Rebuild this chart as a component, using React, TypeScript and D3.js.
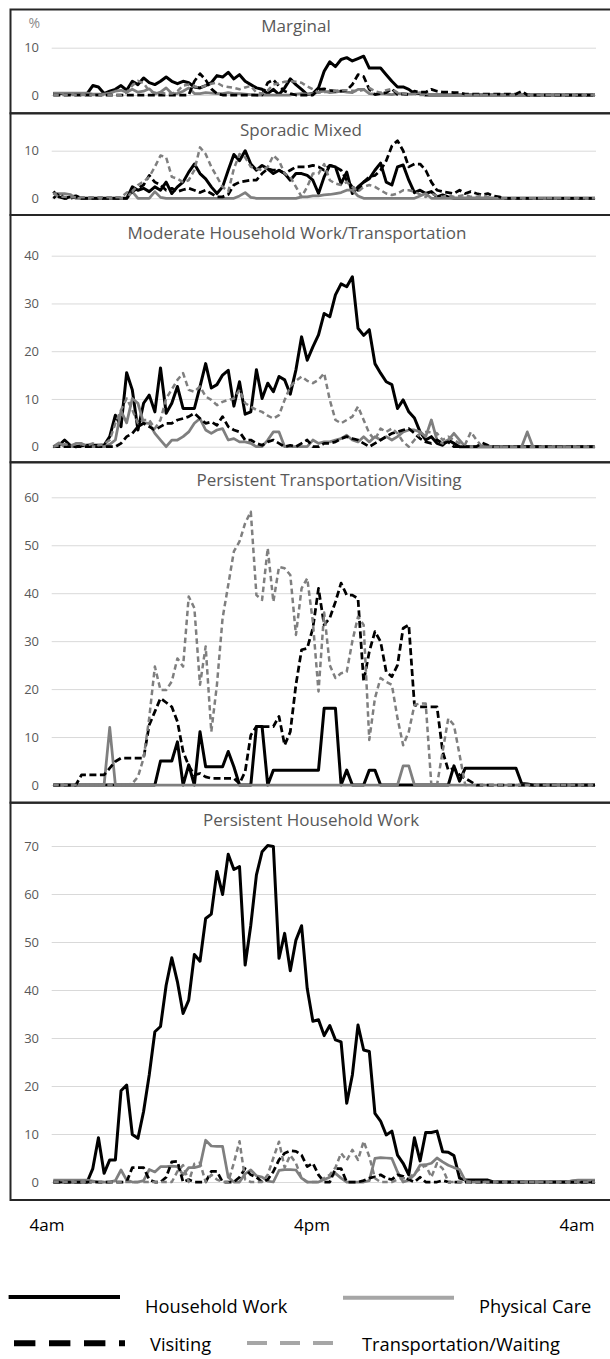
import React, { useEffect, useRef } from 'react'
import * as d3 from 'd3'

// quarter-hour steps from 4am to 4am next day
const quarterHours = d3.range(97).map((i) => 4 + i / 4)

const xLabels = ['4am', '4pm', '4am']
const seriesNames = ['Household Work', 'Physical Care', 'Visiting', 'Transportation/Waiting']
const panelTitles = [
  'Marginal',
  'Sporadic Mixed',
  'Moderate Household Work/Transportation',
  'Persistent Transportation/Visiting',
  'Persistent Household Work',
]
const panelTicks = [
  [0, 10],
  [0, 10],
  [0, 10, 20, 30, 40],
  [0, 10, 20, 30, 40, 50, 60],
  [0, 10, 20, 30, 40, 50, 60, 70],
]

// Marginal
const marginalHousework = [
  0.3, 0.3, 0.3, 0.3, 0.3, 0.3, 0.3, 2.0, 1.7, 0.3,
  0.8, 1.2, 2.0, 1.0, 2.9, 2.2, 3.6, 2.6, 2.2, 2.9,
  3.8, 2.9, 2.4, 2.9, 2.6, 1.7, 1.5, 2.0, 2.6, 4.1,
  3.8, 4.8, 3.4, 4.3, 2.9, 2.2, 1.5, 1.2, 0.3, 1.2,
  0.1, 1.5, 3.4, 2.2, 1.2, 0.1, 0.3, 1.5, 5.0, 7.0,
  6.0, 7.5, 7.9, 7.2, 7.7, 8.2, 5.7, 5.7, 5.7, 4.3,
  2.9, 1.7, 1.7, 1.2, 0.3, 0.3, 0, 0, 0, 0,
  0, 0, 0, 0, 0, 0, 0, 0, 0, 0,
  0, 0, 0, 0, 0, 0, 0, 0, 0, 0,
  0, 0, 0, 0, 0, 0, 0,
]
const marginalPhysical = [
  0.4, 0.4, 0.4, 0.4, 0.4, 0.4, 0.4, 0.2, 0.2, 0.2,
  0.4, 0.8, 1.0, 0.6, 1.2, 0.6, 0.8, 1.3, 0.2, 0.6,
  1.5, 0.3, 0.3, 0.8, 1.5, 0.3, 0.3, 0.5, 0.4, 0.3,
  0.3, 0.5, 0.3, 0.3, 0.2, 0.1, 0, 0, 0, 0,
  0, 0, 0, 0.2, 0.3, 0.2, 0.3, 0.6, 0.8, 0.5,
  0.6, 0.8, 0.6, 0.5, 1.2, 1.2, 0.3, 0.2, 0.3, 0.2,
  0.1, 0.3, 0.3, 0.2, 0.3, 0.5, 0.3, 0, 0, 0,
  0, 0, 0, 0, 0, 0, 0, 0, 0, 0,
  0, 0, 0, 0, 0, 0, 0, 0, 0, 0,
  0, 0, 0, 0, 0, 0, 0,
]
const marginalVisiting = [
  0, 0, 0, 0, 0, 0, 0, 0, 0, 0,
  0, 0, 0, 0, 0, 0, 0, 0, 0, 0,
  0, 0, 0, 0, 0, 2.9, 4.5, 3.2, 1.3, 0.3,
  0, 0, 0, 0, 0, 0, 0, 0, 2.6, 3.2,
  1.9, 0.8, 0.3, 0, 0, 0, 0, 1.2, 1.3, 1.0,
  0.8, 0.8, 1.0, 2.2, 4.3, 3.9, 1.2, 0.1, 0.3, 0.5,
  1.3, 0.1, 0.2, 0.1, 0.8, 0.6, 0.6, 1.2, 0.8, 0.6,
  0.6, 0.5, 0.5, 0.2, 0.2, 0.2, 0.2, 0.2, 0.2, 0.2,
  0.2, 0.2, 0.2, 0.8, 0, 0, 0, 0, 0, 0,
  0, 0, 0, 0, 0, 0, 0,
]
const marginalTransport = [
  0, 0, 0, 0, 0, 0, 0, 0, 0, 0,
  0, 0, 0, 0.5, 2.0, 3.0, 2.5, 0.8, 0.5, 0.5,
  0.3, 0.3, 0.8, 2.0, 2.2, 1.8, 1.5, 2.0, 2.4, 2.6,
  1.9, 1.7, 1.5, 1.2, 1.6, 1.9, 0.5, 0.3, 1.0, 2.2,
  2.5, 2.8, 2.9, 2.8, 2.6, 1.8, 1.2, 0.5, 0.6, 0.8,
  0.9, 1.0, 1.0, 0.9, 0.8, 1.1, 1.5, 0.8, 0.5, 1.0,
  1.3, 0.5, 0.3, 0.2, 0.2, 0, 0, 0, 0, 0,
  0, 0, 0, 0, 0, 0, 0, 0, 0, 0,
  0, 0, 0, 0, 0, 0, 0, 0, 0, 0,
  0, 0, 0, 0, 0, 0, 0,
]

// Sporadic Mixed
const sporadicHousework = [
  1.4, 0.3, 0, 0.3, 0.5, 0, 0, 0, 0, 0,
  0, 0, 0, 0, 2.4, 1.7, 2.1, 1.4, 2.4, 1.7,
  3.4, 1.0, 2.4, 3.4, 5.5, 7.2, 5.2, 4.1, 2.4, 1.0,
  2.4, 5.9, 9.2, 7.9, 10.0, 7.2, 5.9, 6.9, 6.2, 5.2,
  5.9, 5.2, 3.8, 5.2, 5.2, 4.8, 3.8, 1.0, 4.5, 6.9,
  6.6, 3.1, 5.5, 1.0, 2.4, 3.4, 4.1, 5.9, 7.4, 3.4,
  2.8, 6.6, 7.0, 3.8, 1.2, 1.7, 1.0, 1.4, 0.3, 0.7,
  0.3, 0, 0, 0, 0, 0, 0, 0, 0, 0,
  0, 0, 0, 0, 0, 0, 0, 0, 0, 0,
  0, 0, 0, 0, 0, 0, 0,
]
const sporadicPhysical = [
  1.0, 1.0, 1.0, 0.8, 0, 0, 0, 0, 0, 0,
  0, 0, 0, 0, 1.4, 0, 0, 0, 1.4, 0.2,
  0, 0, 0, 0, 0, 0, 0, 0, 0, 0,
  0, 0, 0, 0.5, 1.2, 0.2, 0, 0, 0, 0,
  0, 0, 0, 0, 0.3, 0.3, 0.5, 0.5, 0.7, 0.8,
  1.0, 1.2, 1.7, 1.7, 0.5, 0, 0, 0, 0, 0,
  0, 0, 0, 0, 0, 0.5, 1.0, 0, 0, 0,
  0, 0, 0, 0, 0, 0, 0, 0, 0, 0,
  0, 0, 0, 0, 0, 0, 0, 0, 0, 0,
  0, 0, 0, 0, 0, 0, 0,
]
const sporadicVisiting = [
  0, 1.0, 0, 0, 0.3, 0, 0, 0, 0, 0,
  0, 0, 0, 0, 1.4, 2.1, 2.8, 4.8, 3.4, 2.8,
  1.7, 2.1, 1.4, 1.8, 2.1, 1.7, 1.2, 1.7, 1.0, 0.3,
  0.3, 0.8, 2.8, 3.4, 3.6, 3.8, 3.8, 5.2, 6.2, 5.9,
  5.9, 5.2, 5.9, 6.6, 6.6, 6.6, 6.9, 6.6, 5.9, 6.9,
  6.6, 5.9, 3.8, 2.4, 1.7, 3.4, 4.5, 4.8, 5.9, 7.9,
  11.0, 12.1, 10.0, 6.6, 7.2, 7.2, 5.9, 3.4, 1.7, 1.4,
  1.2, 1.0, 1.7, 1.0, 1.4, 1.0, 0.7, 1.0, 0.5, 0.3,
  0, 0, 0, 0, 0, 0, 0, 0, 0, 0,
  0, 0, 0, 0, 0, 0, 0,
]
const sporadicTransport = [
  1.0, 0.3, 0.3, 0.2, 0.2, 0.2, 0.2, 0.2, 0.2, 0.2,
  0.2, 0.2, 0.2, 1.2, 1.4, 2.8, 3.5, 4.5, 6.6, 9.0,
  8.6, 4.5, 4.1, 3.4, 3.8, 5.9, 10.7, 9.3, 6.6, 4.5,
  2.4, 1.4, 6.2, 9.3, 8.6, 6.6, 6.2, 5.9, 6.6, 9.0,
  7.9, 5.2, 4.5, 2.4, 0.3, 2.4, 5.2, 5.2, 7.2, 3.8,
  3.1, 2.8, 3.4, 2.4, 1.4, 2.4, 2.8, 2.4, 1.7, 1.0,
  0.7, 1.0, 1.7, 1.7, 1.4, 0.8, 0.3, 1.0, 0.5, 0.3,
  0.7, 0.3, 0.5, 0.7, 0.3, 0.3, 0.7, 0.3, 0, 0,
  0, 0, 0, 0, 0, 0, 0, 0, 0, 0,
  0, 0, 0, 0, 0, 0, 0,
]

// Moderate Household Work/Transportation
const moderateHousework = [
  0, 0.3, 1.4, 0.3, 0, 0.2, 0.3, 0.3, 0.3, 0.3,
  2.1, 6.6, 4.2, 15.5, 11.9, 3.5, 9.1, 10.8, 7.3, 16.5,
  7.0, 9.1, 12.6, 8.0, 8.0, 8.0, 12.6, 17.4, 12.3, 13.0,
  15.0, 16.0, 8.5, 13.6, 6.8, 7.3, 16.1, 10.1, 13.3, 11.5,
  14.7, 14.0, 11.0, 16.1, 23.0, 18.1, 20.9, 23.4, 27.9, 27.2,
  31.8, 34.1, 33.5, 35.6, 24.8, 23.3, 24.5, 17.4, 15.4, 13.6,
  13.0, 8.0, 9.8, 7.3, 6.0, 3.1, 1.4, 2.1, 0.7, 0.3,
  1.4, 0.7, 0, 0, 0, 0, 0, 0, 0, 0,
  0, 0, 0, 0, 0, 0, 0, 0, 0, 0,
  0, 0, 0, 0, 0, 0, 0,
]
const moderatePhysical = [
  0, 0.8, 0, 0, 0.7, 0.7, 0, 0, 0, 0,
  0.5, 1.4, 7.5, 5.0, 10.1, 9.1, 5.0, 4.9, 2.8, 1.4,
  0, 1.4, 1.4, 2.1, 3.1, 4.9, 5.9, 3.5, 2.8, 3.5,
  3.8, 1.4, 1.7, 1.0, 1.0, 0.7, 0, 0, 1.4, 3.1,
  3.1, 0, 0, 0, 0, 0, 1.4, 0.7, 1.0, 1.0,
  1.4, 1.7, 2.4, 1.4, 1.0, 2.1, 1.0, 2.1, 1.4, 2.1,
  1.4, 2.1, 3.1, 3.5, 3.5, 3.1, 2.1, 5.6, 1.4, 0.7,
  1.4, 2.8, 1.4, 0, 0, 0, 0, 0, 0, 0,
  0, 0, 0, 0, 3.1, 0, 0, 0, 0, 0,
  0, 0, 0, 0, 0, 0, 0,
]
const moderateVisiting = [
  0, 0, 0, 0, 0, 0, 0, 0, 0, 0,
  0, 0, 0.7, 2.1, 2.8, 4.2, 4.9, 4.2, 3.5, 4.2,
  4.9, 4.9, 5.6, 5.9, 6.3, 7.0, 5.9, 4.9, 5.2, 4.5,
  6.3, 4.2, 3.5, 3.1, 1.4, 1.4, 0.7, 0.3, 1.0, 1.4,
  0.7, 0, 0.3, 0, 0.7, 1.4, 0, 0, 0.7, 0.7,
  1.0, 1.7, 2.1, 1.7, 1.4, 0.7, 0, 0.7, 1.4, 2.1,
  2.8, 3.1, 3.5, 3.8, 2.8, 1.7, 1.0, 0.7, 1.4, 0.7,
  1.0, 0, 0, 0, 0, 0, 0.8, 0.3, 0, 0,
  0, 0, 0, 0, 0, 0, 0, 0, 0, 0,
  0, 0, 0, 0, 0, 0, 0,
]
const moderateTransport = [
  0, 0.3, 0.5, 0.3, 0.5, 0.5, 0.3, 0.7, 0.3, 0.5,
  1.4, 4.9, 7.7, 10.1, 7.7, 4.9, 5.6, 5.6, 3.8, 5.6,
  10.1, 12.0, 14.0, 15.4, 11.9, 11.5, 12.6, 10.5, 9.8, 8.7,
  9.4, 9.8, 10.1, 11.9, 9.1, 8.4, 7.7, 7.3, 6.5, 5.9,
  6.6, 9.8, 12.6, 13.8, 14.7, 13.8, 13.3, 14.0, 15.4, 9.8,
  5.6, 4.9, 5.6, 6.3, 8.4, 5.6, 2.8, 1.4, 3.8, 3.1,
  3.8, 2.8, 1.0, 0, 1.4, 2.8, 3.1, 3.0, 2.8, 1.4,
  2.1, 1.4, 0.7, 0.5, 3.1, 1.4, 0, 0, 0, 0,
  0, 0, 0, 0, 0, 0, 0, 0, 0, 0,
  0, 0, 0, 0, 0, 0, 0,
]

// Persistent Transportation/Visiting
const transitHousework = [
  0, 0, 0, 0, 0, 0, 0, 0, 0, 0,
  0, 0, 0, 0, 0, 0, 0, 0, 0, 5.0,
  5.0, 5.0, 9.0, 0, 4.2, 0, 11.1, 3.8, 3.8, 3.8,
  3.8, 7.0, 3.8, 0, 0, 0, 12.2, 12.2, 0, 3.1,
  3.1, 3.1, 3.1, 3.1, 3.1, 3.1, 3.1, 3.1, 16.0, 16.0,
  16.0, 0, 3.1, 0, 0, 0, 3.1, 3.1, 0, 0,
  0, 0, 0, 0, 0, 0, 0, 0, 0, 0,
  0, 4.0, 0.8, 3.5, 3.5, 3.5, 3.5, 3.5, 3.5, 3.5,
  3.5, 3.5, 3.5, 0.3, 0.2, 0, 0, 0, 0, 0,
  0, 0, 0, 0, 0, 0, 0,
]
const transitPhysical = [
  0, 0, 0, 0, 0, 0, 0, 0, 0, 0,
  12.0, 0, 0, 0, 0, 0, 0, 0, 0, 0,
  0, 0, 0, 0, 0, 0, 0, 0, 0, 0,
  0, 0, 0, 0, 0, 0, 0, 0, 0, 0,
  0, 0, 0, 0, 0, 0, 0, 0, 0, 0,
  0, 0, 0, 0, 0, 0, 0, 0, 0, 0,
  0, 0, 4.0, 4.0, 0, 0, 0, 0, 0, 0,
  0, 0, 0, 0, 0, 0, 0, 0, 0, 0,
  0, 0, 0, 0, 0, 0, 0, 0, 0, 0,
  0, 0, 0, 0, 0, 0, 0,
]
const transitVisiting = [
  0, 0, 0, 0, 0, 2.1, 2.1, 2.1, 2.1, 2.1,
  3.5, 4.9, 5.6, 5.6, 5.6, 5.6, 5.6, 12.5, 15.3, 18.1,
  17.2, 16.3, 13.2, 7.0, 4.0, 2.1, 2.4, 1.7, 1.4, 1.4,
  1.4, 1.4, 1.4, 0.3, 2.8, 10.4, 12.2, 12.2, 12.2, 12.2,
  14.3, 8.3, 11.1, 20.9, 28.2, 28.5, 32.7, 41.0, 33.4, 34.8,
  38.2, 42.1, 39.6, 39.6, 38.9, 21.6, 27.8, 32.0, 29.9, 23.6,
  22.6, 25.0, 32.7, 33.4, 16.7, 16.3, 16.3, 16.3, 16.3, 7.0,
  3.1, 3.5, 2.1, 1.4, 0.7, 0, 0, 0, 0, 0,
  0, 0, 0, 0, 0, 0, 0, 0, 0, 0,
  0, 0, 0, 0, 0, 0, 0,
]
const transitTransport = [
  0, 0, 0, 0, 0, 0, 0, 0, 0, 0,
  0, 0, 0, 0, 0.3, 1.7, 5.6, 14.0, 24.7, 19.8,
  19.8, 21.6, 26.4, 24.7, 39.3, 36.9, 20.9, 28.9, 11.1, 20.9,
  34.8, 41.7, 48.7, 50.8, 54.6, 57.0, 39.6, 38.6, 49.4, 38.2,
  45.5, 45.2, 43.8, 31.3, 41.0, 43.1, 34.0, 19.5, 36.0, 25.0,
  22.3, 23.3, 23.6, 30.0, 35.1, 33.4, 9.4, 18.1, 22.3, 21.5,
  20.9, 13.9, 8.3, 11.1, 16.7, 17.0, 17.0, 0, 0, 7.0,
  13.9, 12.5, 6.3, 0, 0, 0, 0, 0, 0, 0,
  0, 0, 0, 0, 0, 0, 0, 0, 0, 0,
  0, 0, 0, 0, 0, 0, 0,
]

// Persistent Household Work
const homeHousework = [
  0, 0, 0, 0, 0, 0, 0, 2.8, 9.2, 1.8,
  4.6, 4.6, 19.0, 20.2, 9.9, 9.1, 14.7, 22.3, 31.3, 32.4,
  41.0, 46.7, 41.7, 35.1, 37.9, 47.4, 46.0, 54.9, 55.8, 64.7,
  59.9, 68.3, 65.1, 65.7, 45.2, 53.5, 64.0, 68.8, 70.1, 69.9,
  46.6, 51.8, 44.0, 50.4, 53.4, 40.3, 33.5, 33.8, 30.5, 32.6,
  29.6, 29.2, 16.4, 22.3, 32.7, 27.5, 27.2, 14.3, 12.7, 9.8,
  10.6, 5.6, 3.9, 1.5, 9.2, 4.4, 10.3, 10.3, 10.6, 6.3,
  6.2, 5.5, 0.8, 0.4, 0.4, 0.4, 0.4, 0.4, 0, 0,
  0, 0, 0, 0, 0, 0, 0, 0, 0, 0,
  0, 0, 0, 0, 0, 0, 0,
]
const homePhysical = [
  0.4, 0.4, 0.4, 0.4, 0.4, 0.4, 0.4, 0.2, 0, 0,
  0, 0.3, 2.5, 0.4, 0, 0, 0.3, 2.6, 2.1, 3.2,
  3.2, 3.3, 3.2, 1.5, 3.0, 3.0, 3.3, 8.7, 7.5, 7.4,
  7.4, 1.0, 0, 0, 1.7, 2.5, 1.3, 1.0, 0.2, 0,
  2.4, 2.6, 2.6, 2.5, 0.8, 0, 0, 0, 0.5, 1.0,
  1.8, 0.8, 0, 0, 0, 0, 0.3, 4.9, 5.1, 5.0,
  4.9, 2.1, 0, 0.4, 1.5, 3.5, 3.6, 3.9, 5.0, 4.2,
  3.5, 3.0, 2.6, 0.3, 0, 0, 0, 0, 0, 0,
  0, 0, 0, 0, 0, 0, 0, 0, 0, 0,
  0, 0, 0.3, 0.4, 0.4, 0.4, 0.4,
]
const homeVisiting = [
  0, 0, 0, 0, 0, 0, 0, 0, 0, 0,
  0, 0, 0, 0, 3.0, 3.0, 3.0, 0.5, 0, 0,
  1.0, 4.2, 4.3, 0, 0.5, 0, 0, 0, 2.2, 2.2,
  0, 0, 0, 1.0, 2.8, 1.5, 1.0, 0, 0.5, 2.2,
  4.6, 6.0, 6.5, 6.4, 5.6, 3.2, 3.9, 1.5, 0, 0,
  2.8, 2.8, 0, 0, 0, 0.3, 0.8, 1.1, 1.5, 0.8,
  0.5, 1.5, 1.2, 0.5, 0, 1.0, 0, 0, 0, 0.3,
  0, 0, 0, 0, 0, 0, 0, 0, 0, 0,
  0, 0, 0, 0, 0, 0, 0, 0, 0, 0,
  0, 0, 0, 0, 0, 0, 0,
]
const homeTransport = [
  0, 0, 0, 0, 0, 0, 0, 0, 0, 0,
  0, 0, 0, 0, 0, 0, 0, 0, 0, 0,
  0, 0, 2.2, 3.5, 0, 3.8, 4.0, 0, 1.5, 0.5,
  0, 0, 4.0, 8.5, 0.5, 0, 0, 0, 1.5, 5.0,
  8.4, 3.0, 5.6, 3.9, 0.8, 0, 0, 0, 0.8, 1.5,
  3.0, 6.0, 4.5, 6.7, 4.6, 8.5, 5.3, 0.8, 0, 0,
  0, 0.5, 0.8, 0.8, 1.8, 2.8, 3.5, 1.0, 3.9, 2.8,
  0, 0, 0, 0, 0, 0, 0, 0, 0, 0,
  0, 0, 0, 0, 0, 0, 0, 0, 0, 0,
  0, 0, 0, 0, 0, 0, 0,
]

const panelSeries = [
  [marginalHousework, marginalPhysical, marginalVisiting, marginalTransport],
  [sporadicHousework, sporadicPhysical, sporadicVisiting, sporadicTransport],
  [moderateHousework, moderatePhysical, moderateVisiting, moderateTransport],
  [transitHousework, transitPhysical, transitVisiting, transitTransport],
  [homeHousework, homePhysical, homeVisiting, homeTransport],
]

// layout of the five stacked boxes (pixels)
const boxes = [
  { top: 9.5, zero: 95, max: 47.7, titleX: 296, titleY: 32 },
  { top: 113.3, zero: 198.3, max: 150.7, titleX: 301, titleY: 136 },
  { top: 215, zero: 446.7, max: 255.7, titleX: 297, titleY: 239 },
  { top: 462.3, zero: 785, max: 497.3, titleX: 329, titleY: 486 },
  { top: 802.7, zero: 1182, max: 846, titleX: 311, titleY: 826 },
]
const boxesBottom = 1200
const gridLeft = 51.7
const gridRight = 596
const font = "'Open Sans', sans-serif"

const lineStyles = [
  { color: '#000000', width: 3, dash: null },
  { color: '#7f7f7f', width: 2.75, dash: null },
  { color: '#000000', width: 2.75, dash: '7,3.5' },
  { color: '#7f7f7f', width: 2.5, dash: '5.5,3.5' },
]
const legendStyles = [
  { color: '#000000', width: 4, dash: null, x1: 8.6, x2: 120, y: 1297, tx: 145, ty: 1312.5 },
  { color: '#a6a6a6', width: 4, dash: null, x1: 343, x2: 454, y: 1297.7, tx: 479, ty: 1312.5 },
  { color: '#000000', width: 6, dash: '21.4,13.6', x1: 14, x2: 125, y: 1343.3, tx: 150, ty: 1351 },
  { color: '#a6a6a6', width: 4, dash: '20,13', x1: 247, x2: 333, y: 1343, tx: 362, ty: 1351 },
]

const App = () => {
  const svgRef = useRef<SVGSVGElement>(null)

  useEffect(() => {
    const svg = d3.select(svgRef.current)
    svg.selectAll('*').remove()

    const x = d3
      .scaleLinear()
      .domain([quarterHours[0], quarterHours[quarterHours.length - 1]])
      .range([53.3, 595])

    panelSeries.forEach((series, p) => {
      const box = boxes[p]
      const bottom = p < boxes.length - 1 ? boxes[p + 1].top : boxesBottom
      const ticks = panelTicks[p]
      const y = d3
        .scaleLinear()
        .domain([0, ticks[ticks.length - 1]])
        .range([box.zero, box.max])

      const g = svg.append('g')

      // box
      g.append('rect')
        .attr('x', 10.5)
        .attr('y', box.top)
        .attr('width', 620)
        .attr('height', bottom - box.top)
        .attr('fill', 'none')
        .attr('stroke', '#262626')
        .attr('stroke-width', 2)

      // gridlines + tick labels
      g.append('g')
        .attr('transform', `translate(${gridLeft},0)`)
        .call(
          d3
            .axisLeft(y)
            .tickValues(ticks)
            .tickSize(-(gridRight - gridLeft))
            .tickPadding(12.7)
            .tickFormat(d3.format('d'))
        )
        .call((a) => a.select('.domain').remove())
        .call((a) => a.selectAll('line').attr('stroke', '#d9d9d9').attr('stroke-width', 1))
        .call((a) =>
          a
            .selectAll('text')
            .attr('fill', '#595959')
            .attr('font-size', 13)
            .attr('font-family', font)
        )

      // title
      g.append('text')
        .text(panelTitles[p])
        .attr('x', box.titleX)
        .attr('y', box.titleY)
        .attr('text-anchor', 'middle')
        .attr('fill', '#595959')
        .attr('font-size', 17)
        .attr('font-family', font)

      // series
      const line = d3
        .line<number>()
        .x((d, i) => x(quarterHours[i]))
        .y((d) => y(d))

      series.forEach((values, s) => {
        const st = lineStyles[s]
        g.append('path')
          .datum(values)
          .attr('d', line)
          .attr('fill', 'none')
          .attr('stroke', st.color)
          .attr('stroke-width', st.width)
          .attr('stroke-linejoin', 'round')
          .attr('stroke-dasharray', st.dash)
      })
    })

    // % unit mark on first panel
    svg
      .append('text')
      .text('%')
      .attr('x', 40)
      .attr('y', 28)
      .attr('text-anchor', 'end')
      .attr('fill', '#8c8c8c')
      .attr('font-size', 14)
      .attr('font-family', font)

    // time labels under the stack
    const labelX = d3
      .scaleLinear()
      .domain([0, xLabels.length - 1])
      .range([47, 577])
    svg
      .selectAll('.time-label')
      .data(xLabels)
      .enter()
      .append('text')
      .attr('class', 'time-label')
      .text((d) => d)
      .attr('x', (d, i) => labelX(i))
      .attr('y', 1230.7)
      .attr('text-anchor', 'middle')
      .attr('fill', '#000')
      .attr('font-size', 17)
      .attr('font-family', font)

    // legend
    const legend = svg
      .selectAll('.legend')
      .data(seriesNames)
      .enter()
      .append('g')
      .attr('class', 'legend')

    legend
      .append('line')
      .attr('x1', (d, i) => legendStyles[i].x1)
      .attr('x2', (d, i) => legendStyles[i].x2)
      .attr('y1', (d, i) => legendStyles[i].y)
      .attr('y2', (d, i) => legendStyles[i].y)
      .attr('stroke', (d, i) => legendStyles[i].color)
      .attr('stroke-width', (d, i) => legendStyles[i].width)
      .attr('stroke-dasharray', (d, i) => legendStyles[i].dash)

    legend
      .append('text')
      .text((d) => d)
      .attr('x', (d, i) => legendStyles[i].tx)
      .attr('y', (d, i) => legendStyles[i].ty)
      .attr('fill', '#000')
      .attr('font-size', 18.3)
      .attr('font-family', font)
  }, [])

  return (
    <div style={{ position: 'absolute', left: 0, top: 0 }}>
      <svg ref={svgRef} width={610} height={1359} style={{ display: 'block', background: '#fff' }} />
    </div>
  )
}

export default App
